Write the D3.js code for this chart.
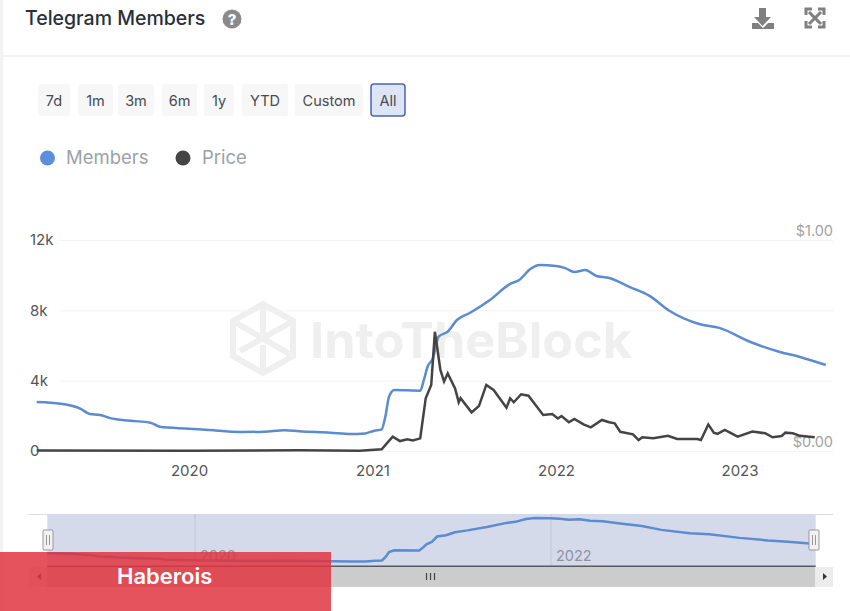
<!DOCTYPE html>
<html>
<head>
<meta charset="utf-8">
<script src="https://cdn.jsdelivr.net/npm/d3@7"></script>
<style>
  html, body { margin: 0; background: #fff; }
  text { font-family: Inter, "Noto Sans", sans-serif; }
</style>
</head>
<body>
<div id="chart"></div>
<script>
// x as decimal years
const memberYears = [2019.17, 2019.30, 2019.41, 2019.46, 2019.515, 2019.57, 2019.68, 2019.79, 2019.84, 2020.00,
  2020.11, 2020.28, 2020.41, 2020.52, 2020.60, 2020.77, 2020.88, 2020.96, 2021.01, 2021.05,
  2021.07, 2021.09, 2021.12, 2021.26, 2021.28, 2021.30, 2021.33, 2021.36, 2021.41, 2021.46,
  2021.53, 2021.64, 2021.75, 2021.80, 2021.86, 2021.91, 2022.00, 2022.05, 2022.10, 2022.16,
  2022.22, 2022.29, 2022.40, 2022.51, 2022.62, 2022.78, 2022.89, 2023.06, 2023.22, 2023.33, 2023.47]
const members = [2790, 2690, 2400, 2100, 2050, 1870, 1720, 1610, 1380, 1270,
  1190, 1080, 1100, 1180, 1120, 1040, 970, 1000, 1155, 1230,
  1950, 3090, 3470, 3430, 4040, 4790, 5290, 6500, 6790, 7450,
  7850, 8590, 9500, 9730, 10350, 10580, 10520, 10400, 10180, 10300,
  9950, 9840, 9330, 8820, 7960, 7220, 7000, 6200, 5630, 5350, 4890]

const priceYears = [2019.17, 2020.00, 2020.60, 2020.93, 2021.05, 2021.11, 2021.15, 2021.19, 2021.22, 2021.26,
  2021.29, 2021.32, 2021.34, 2021.37, 2021.39, 2021.41, 2021.45, 2021.47, 2021.48, 2021.54,
  2021.58, 2021.62, 2021.66, 2021.73, 2021.75, 2021.77, 2021.81, 2021.85, 2021.93, 2021.98,
  2022.01, 2022.03, 2022.07, 2022.10, 2022.15, 2022.19, 2022.25, 2022.29, 2022.32, 2022.35,
  2022.42, 2022.45, 2022.47, 2022.53, 2022.61, 2022.66, 2022.77, 2022.79, 2022.83, 2022.86,
  2022.88, 2022.92, 2022.99, 2023.07, 2023.14, 2023.18, 2023.23, 2023.25, 2023.29, 2023.33, 2023.41]
const price = [0.002, 0.001, 0.003, 0.0015, 0.008, 0.068, 0.047, 0.055, 0.05, 0.06,
  0.25, 0.313, 0.565, 0.384, 0.329, 0.368, 0.297, 0.231, 0.25, 0.183,
  0.213, 0.313, 0.289, 0.205, 0.25, 0.231, 0.269, 0.262, 0.171, 0.175,
  0.154, 0.166, 0.136, 0.152, 0.126, 0.112, 0.147, 0.136, 0.131, 0.091,
  0.079, 0.052, 0.065, 0.06, 0.072, 0.057, 0.057, 0.052, 0.126, 0.087,
  0.081, 0.1, 0.068, 0.092, 0.084, 0.065, 0.071, 0.087, 0.084, 0.072, 0.065]

const yearTicks = [2020, 2021, 2022, 2023]
const navYearTicks = [2020, 2022]
const memberTicks = [0, 4000, 8000, 12000]
const priceTicks = [0, 1]
const ranges = ['7d', '1m', '3m', '6m', '1y', 'YTD', 'Custom', 'All']
const rangeX = [38, 78, 118, 162, 204, 242, 295, 371]
const rangeW = [32, 35, 36, 35, 30, 46, 68, 34]

const width = 850
const height = 611
const svg = d3.select('#chart').append('svg')
  .attr('width', width)
  .attr('height', height)
  .style('display', 'block')

const yearRange = [2019.17, 2023.47]
const x = d3.scaleLinear().domain([2020, 2023]).range([189, 739.5])
const y = d3.scaleLinear().domain([0, 12000]).range([451, 240])
const yPrice = d3.scaleLinear().domain([0, 1]).range([451, 240])

const navX = d3.scaleLinear().domain([2020, 2022]).range([195, 551])
const navY = d3.scaleLinear().domain([0, 10580]).range([566, 518])

// card frame
svg.append('rect').attr('x', 0).attr('y', 0).attr('width', 3).attr('height', height).attr('fill', '#f3f3f3')
svg.append('rect').attr('x', 3).attr('y', 55).attr('width', width - 3).attr('height', 2).attr('fill', '#f3f3f3')

// header
svg.append('text').attr('x', 25).attr('y', 25)
  .attr('font-size', 19.5).attr('font-weight', 500).attr('fill', '#27303a')
  .text('Telegram Members')
svg.append('circle').attr('cx', 232).attr('cy', 19).attr('r', 9.5).attr('fill', '#8a8a8a')
svg.append('text').attr('x', 232).attr('y', 24.5).attr('text-anchor', 'middle')
  .attr('font-size', 15).attr('font-weight', 800).attr('fill', '#fff').text('?')

// download and fullscreen icons
svg.append('path')
  .attr('d', 'M759 8h7v9h5l-8.5 9l-8.5 -9h5z M752 23h6l5 5l5 -5h6v6h-22z')
  .attr('fill', '#808080')
const full = svg.append('g').attr('stroke', '#808080').attr('fill', 'none')
full.append('path').attr('stroke-width', 3).attr('d', 'M809 12L821 24M821 12L809 24')
full.append('path').attr('stroke-width', 3).attr('d', 'M806 15V9h6M818 9h6v6M824 21v6h-6M812 27h-6v-6')

// range buttons
const buttons = svg.append('g').selectAll('g').data(ranges).join('g')
buttons.append('rect')
  .attr('x', (d, i) => rangeX[i]).attr('y', 84)
  .attr('width', (d, i) => rangeW[i]).attr('height', 32).attr('rx', 3)
  .attr('fill', d => d === 'All' ? '#dde5f5' : '#f7f7f7')
  .attr('stroke', d => d === 'All' ? '#4a66b0' : 'none')
  .attr('stroke-width', 1.5)
buttons.append('text')
  .attr('x', (d, i) => rangeX[i] + rangeW[i] / 2).attr('y', 106)
  .attr('text-anchor', 'middle').attr('font-size', 14.5).attr('fill', '#444b52')
  .text(d => d)

// legend
svg.append('circle').attr('cx', 47.5).attr('cy', 158).attr('r', 7.5).attr('fill', '#5b8fdc')
svg.append('text').attr('x', 66).attr('y', 164).attr('font-size', 18.5).attr('fill', '#9ba1a7').text('Members')
svg.append('circle').attr('cx', 183).attr('cy', 158).attr('r', 7.5).attr('fill', '#444')
svg.append('text').attr('x', 202).attr('y', 164).attr('font-size', 18.5).attr('fill', '#9ba1a7').text('Price')

// watermark
const mark = svg.append('g').attr('stroke', '#efefef').attr('stroke-width', 6).attr('fill', 'none')
mark.append('path').attr('d', 'M263 304L293 321V356L263 373L233 356V321Z')
mark.append('path').attr('d', 'M233 321L293 356M263 304V334M293 321L240 351M263 373V345')
svg.append('text').attr('x', 310).attr('y', 358)
  .attr('font-size', 50).attr('font-weight', 700).attr('fill', '#efefef')
  .attr('textLength', 322).attr('lengthAdjust', 'spacingAndGlyphs')
  .text('IntoTheBlock')

// left axis with gridlines
svg.append('g')
  .attr('transform', 'translate(60,0)')
  .call(d3.axisLeft(y).tickValues(memberTicks).tickSize(0).tickFormat(d => d === 0 ? '0' : d / 1000 + 'k'))
  .call(g => g.select('.domain').remove())
  .call(g => g.selectAll('.tick text')
    .attr('x', -30).attr('text-anchor', 'start')
    .attr('font-size', 15).attr('fill', '#555')
    .style('font-family', 'Inter, sans-serif'))
  .call(g => g.selectAll('.tick line')
    .attr('x2', 773).attr('stroke', '#f3f3f3'))

// right axis, labels sit above their gridline
svg.append('g')
  .attr('transform', 'translate(833,0)')
  .call(d3.axisRight(yPrice).tickValues(priceTicks).tickSize(0).tickFormat(d3.format('$.2f')))
  .call(g => g.select('.domain').remove())
  .call(g => g.selectAll('.tick text')
    .attr('x', 0).attr('dy', '-0.3em').attr('text-anchor', 'end')
    .attr('font-size', 14.5).attr('fill', '#a2a2a2')
    .style('font-family', 'Inter, sans-serif'))

// bottom axis
svg.append('g')
  .attr('transform', 'translate(0,451)')
  .call(d3.axisBottom(x).tickValues(yearTicks).tickSize(0).tickPadding(14).tickFormat(d3.format('d')))
  .call(g => g.select('.domain').remove())
  .call(g => g.selectAll('.tick text')
    .attr('font-size', 15).attr('fill', '#555')
    .style('font-family', 'Inter, sans-serif'))

const memberRows = memberYears.map((t, i) => [t, members[i]])
const priceRows = priceYears.map((t, i) => [t, price[i]])

svg.append('path')
  .attr('d', d3.line().x(d => x(d[0])).y(d => y(d[1])).curve(d3.curveMonotoneX)(memberRows))
  .attr('fill', 'none').attr('stroke', '#5b8bd0').attr('stroke-width', 2.5)
svg.append('path')
  .attr('d', d3.line().x(d => x(d[0])).y(d => yPrice(d[1]))(priceRows))
  .attr('fill', 'none').attr('stroke', '#444').attr('stroke-width', 2.5)

// navigator
const navLeft = navX(yearRange[0])
const navRight = navX(yearRange[1])
svg.append('rect').attr('x', 29).attr('y', 514).attr('width', 804).attr('height', 1).attr('fill', '#dcdcdc')
svg.append('rect').attr('x', navLeft).attr('y', 514)
  .attr('width', navRight - navLeft + 3).attr('height', 52).attr('fill', '#d4daea')
const navGrid = svg.append('g').selectAll('g').data(navYearTicks).join('g')
navGrid.append('line')
  .attr('x1', d => navX(d)).attr('x2', d => navX(d)).attr('y1', 514).attr('y2', 566)
  .attr('stroke', '#bfc5d4')
navGrid.append('text')
  .attr('x', d => navX(d) + 5).attr('y', 561)
  .attr('font-size', 14.5).attr('fill', '#8e93a0')
  .text(d => d)
svg.append('path')
  .attr('d', d3.line().x(d => navX(d[0])).y(d => navY(d[1]))(memberRows))
  .attr('fill', 'none').attr('stroke', '#5b8bd0').attr('stroke-width', 2.5)
svg.append('rect').attr('x', navLeft).attr('y', 565.5).attr('width', navRight - navLeft + 3).attr('height', 1.5).attr('fill', '#555b66')

// scrollbar
svg.append('rect').attr('x', 29).attr('y', 567).attr('width', 804).attr('height', 20).attr('fill', '#ececec')
svg.append('rect').attr('x', 47).attr('y', 567).attr('width', 768).attr('height', 20).attr('fill', '#cccccc')
svg.append('path').attr('d', 'M41 573v7l-4 -3.5z M823 573v7l4 -3.5z').attr('fill', '#333')
svg.append('path').attr('d', 'M426.5 573v7M430.5 573v7M434.5 573v7').attr('stroke', '#444').attr('stroke-width', 1.2)

// navigator handles
const handles = svg.append('g').selectAll('g').data([48, 814]).join('g')
handles.append('rect')
  .attr('x', d => d - 5).attr('y', 530).attr('width', 10).attr('height', 20).attr('rx', 1)
  .attr('fill', '#f2f2f2').attr('stroke', '#999')
handles.append('path')
  .attr('d', d => `M${d - 1.5} 535v10M${d + 1.5} 535v10`)
  .attr('stroke', '#999')

// Haberois banner on top of everything
svg.append('rect').attr('x', 0).attr('y', 552).attr('width', 331).attr('height', 59)
  .attr('fill', '#e0353f').attr('fill-opacity', 0.85)
svg.append('text').attr('x', 117).attr('y', 584)
  .attr('font-size', 22).attr('font-weight', 600).attr('fill', '#fff')
  .text('Haberois')
</script>
</body>
</html>
